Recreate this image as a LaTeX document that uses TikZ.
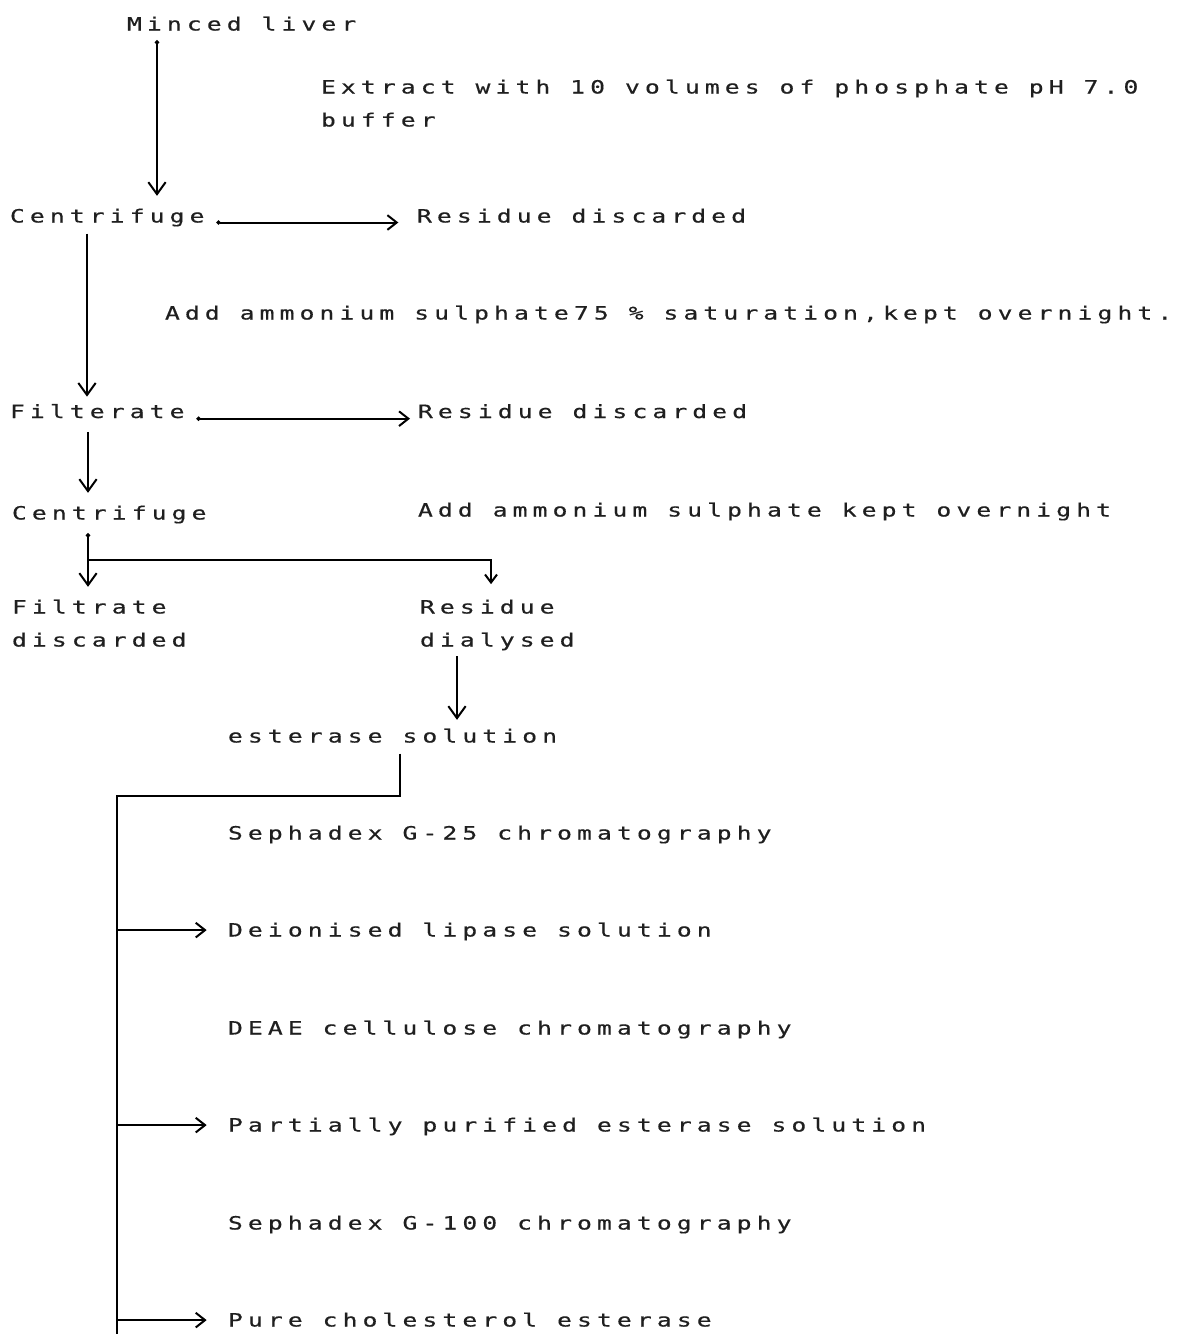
\documentclass[tikz,border=0pt]{standalone}
\usepackage{fontspec}
\setmonofont[LetterSpace=28,FakeStretch=1.35,FakeBold=0.5]{DejaVu Sans Mono}
\usetikzlibrary{arrows.meta,calc}
\begin{document}
\begin{tikzpicture}[x=0.75pt,y=-0.75pt,
  t/.style={anchor=base west, inner sep=0pt, outer sep=0pt, text=black!88,
    font=\ttfamily\fontsize{13.7}{16}\selectfont, text height=12pt, text depth=2.4pt},
  ln/.style={line width=1.5pt},
  big/.style={ln, -{Straight Barb[length=9pt,width=13pt,line width=1.5pt]}},
  sml/.style={ln, -{Straight Barb[length=7pt,width=11pt,line width=1.5pt]}},
  dotbig/.style={ln, {Circle[length=3pt]}-{Straight Barb[length=9pt,width=13pt,line width=1.5pt]}},
  dotsml/.style={ln, {Circle[length=3pt]}-{Straight Barb[length=7pt,width=11pt,line width=1.5pt]}},
]
\useasboundingbox[fill=white] (0,0) rectangle (1184,1342);

% texts
\node[t] (ml)  at (127,30.5)  {Minced liver};
\node[t] (ex1) at (321,93.5)  {Extract with 10 volumes of phosphate pH 7.0};
\node[t] (ex2) at (321,126.5) {buffer};
\node[t] (c1)  at (10,222.5)  {Centrifuge};
\node[t] (rd1) at (417,222.5) {Residue discarded};
\node[t] (ad1) at (165,319.5) {Add ammonium sulphate75 \% saturation,kept overnight.};
\node[t] (fil) at (10,418)    {Filterate};
\node[t] (rd2) at (418,418)   {Residue discarded};
\node[t] (c2)  at (12,519.5)  {Centrifuge};
\node[t] (ad2) at (418,516.5) {Add ammonium sulphate kept overnight};
\node[t] (ft1) at (12,613.5)  {Filtrate};
\node[t] (ft2) at (12,646.5)  {discarded};
\node[t] (rs1) at (420,613.5) {Residue};
\node[t] (rs2) at (420,646.5) {dialysed};
\node[t] (es)  at (228,742.5) {esterase solution};
\node[t] (s25) at (228,839.5) {Sephadex G-25 chromatography};
\node[t] (dl)  at (228,936.5) {Deionised lipase solution};
\node[t] (dea) at (228,1034.5) {DEAE cellulose chromatography};
\node[t] (pp)  at (228,1131.5) {Partially purified esterase solution};
\node[t] (s100) at (228,1229.5) {Sephadex G-100 chromatography};
\node[t] (pce) at (228,1326.5) {Pure cholesterol esterase};

% connectors
\draw[dotbig, shorten <=5pt, shorten >=8pt] (157,0 |- ml.south) -- (157,0 |- c1.north);
\draw[dotsml, shorten >=14pt] ([xshift=9pt]c1.base east) -- (rd1.base west);
\draw[big, shorten <=6pt, shorten >=4pt] (87,0 |- c1.south) -- (87,0 |- fil.north);
\draw[dotsml, shorten >=6pt] ([xshift=9pt,yshift=-0.5pt]fil.base east) -- ([yshift=-0.5pt]rd2.base west);
\draw[big, shorten <=8pt, shorten >=8pt] (88,0 |- fil.south) -- (88,0 |- c2.north);
\coordinate (jn) at (88,560);
\draw[dotbig, shorten <=8pt, shorten >=8pt] (88,0 |- c2.south) -- (88,0 |- ft1.north);
\draw[ln, -{Straight Barb[length=6pt,width=9pt,line width=1.5pt]}, shorten >=10pt] (jn) -- (491,560) -- (491,0 |- rs1.north);
\draw[big, shorten <=5pt, shorten >=5pt] (457,0 |- rs2.south) -- (457,0 |- es.north);
\coordinate (br) at (117,796);
\coordinate (bend) at (117,1334);
\draw[line width=1.8pt, shorten <=6pt] (400,0 |- es.south) -- (400,0 |- br) -- (br) -- (bend);
\draw[sml, shorten >=16pt] (117,0 |- dl.west) -- (dl.west);
\draw[sml, shorten >=16pt] (117,0 |- pp.west) -- (pp.west);
\draw[sml, shorten >=16pt] (117,0 |- pce.west) -- (pce.west);
\end{tikzpicture}
\end{document}
